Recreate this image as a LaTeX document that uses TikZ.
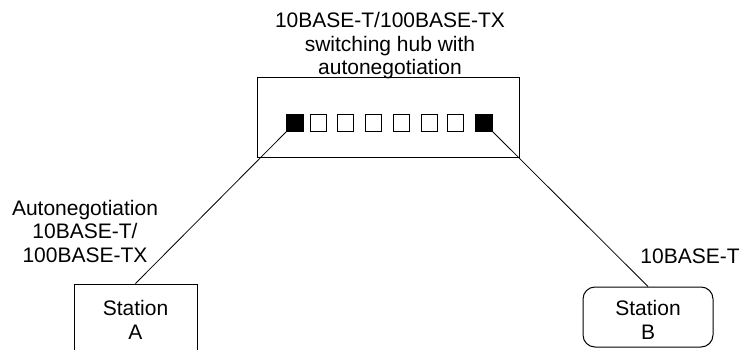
\documentclass[tikz,border=0pt]{standalone}
\usepackage{fontspec}
\setmainfont{Liberation Sans}
\begin{document}
\begin{tikzpicture}[x=1pt,y=-1pt,
  lbl/.style={align=center,inner sep=0pt,font=\fontsize{21}{23.5}\selectfont},
  port/.style={draw,line width=0.9pt,minimum size=16.5pt,inner sep=0pt},
  bport/.style={port,fill=black},
  box/.style={draw,line width=1pt,inner sep=0pt},
  wire/.style={line width=0.8pt}]
\useasboundingbox (0,0) rectangle (741,350);
\clip (0,0) rectangle (741,350);
\node[lbl] (title) at (390,46) {10BASE-T/100BASE-TX\\switching hub with\\autonegotiation};
\node[box,minimum width=262pt,minimum height=79pt] (hub) at (388,117.5) {};
\node[bport] (s1) at (295,123) {};
\node[port] (s2) at (318.5,123) {};
\node[port] (s3) at (345.5,123) {};
\node[port] (s4) at (373.5,123) {};
\node[port] (s5) at (401.5,123) {};
\node[port] (s6) at (429.5,123) {};
\node[port] (s7) at (455.5,123) {};
\node[bport] (s8) at (484,123) {};
\node[box,minimum width=123pt,minimum height=76pt] (A) at (135.5,322) {};
\node[lbl] (At) at (135.5,320) {Station\\A};
\node[box,rounded corners=12pt,minimum width=130pt,minimum height=60pt] (B) at (648,317) {};
\node[lbl] (Bt) at (648,320) {Station\\B};
\node[lbl] (la) at (85,231) {Autonegotiation\\10BASE-T/\\100BASE-TX};
\node[lbl] (lb) at (690,256) {10BASE-T};
\draw[wire] (s1.south west) -- (A.north);
\draw[wire] (s8.south east) -- (B.north);
\end{tikzpicture}
\end{document}
